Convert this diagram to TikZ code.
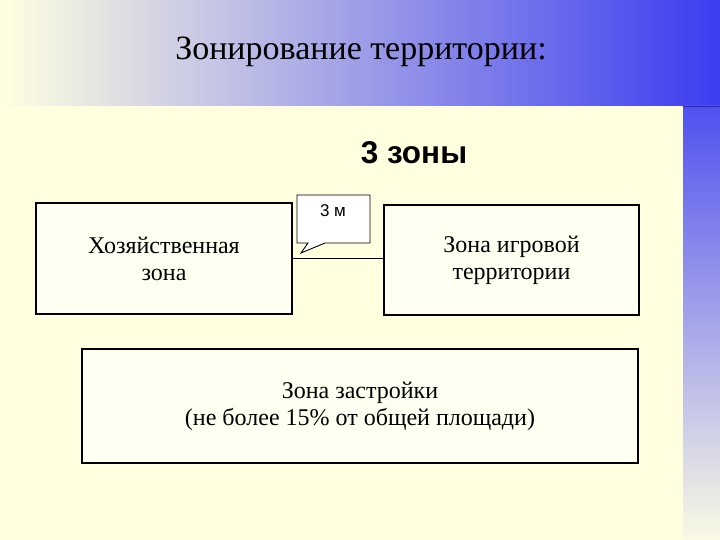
\documentclass[tikz,border=0pt]{standalone}
\usepackage{fontspec}
\setmainfont{Liberation Serif}
\newfontfamily\arialfont{Liberation Sans}
\definecolor{bgyellow}{RGB}{255,255,224}
\definecolor{boxfill}{RGB}{255,255,242}
\definecolor{bandblue}{RGB}{60,60,240}
\definecolor{stripblue}{RGB}{80,80,240}
\definecolor{stripend}{RGB}{250,250,228}
\tikzset{
  zonebox/.style={draw=black, line width=1.2pt, fill=boxfill, rectangle,
    align=center, font=\fontsize{24}{27}\selectfont, inner sep=0pt},
}
\begin{document}
\begin{tikzpicture}[x=1pt,y=-1pt]
\useasboundingbox (0,0) rectangle (720,540);
\fill[bgyellow] (0,0) rectangle (720,540);
\shade[left color=bgyellow, right color=bandblue] (0,0) rectangle (720,106);
\shade[top color=stripblue, bottom color=stripend] (683,106) rectangle (720,540);
\draw[bandblue!70!black, line width=0.8pt] (683,106) -- (720,106);

\node (title) at (361,52) {\fontsize{34}{38}\selectfont Зонирование территории:};
\node (zones) at (414,153) {\arialfont\bfseries\fontsize{31.5}{36}\selectfont 3 зоны};

\node[zonebox, minimum width=256pt, minimum height=111pt] (hoz) at (164,258.5) {Хозяйственная\\зона};
\node[zonebox, minimum width=255pt, minimum height=110pt] (play) at (511.5,260) {Зона игровой\\территории};
\node[zonebox, minimum width=556pt, minimum height=114pt] (build) at (360,406) {Зона застройки\\(не более 15\% от общей площади)};

\draw[line width=0.8pt] (hoz.east) -- (hoz.east -| play.west);

\coordinate (tip) at (301,253);
\draw[fill=white, line width=0.9pt, line join=miter]
  (297,195) -- (370,195) -- (370,243) -- (325,243) -- (tip) -- (308,243) -- (297,243) -- cycle;
\node (dist) at (333,211) {\arialfont\fontsize{17}{20}\selectfont 3 м};
\end{tikzpicture}
\end{document}
